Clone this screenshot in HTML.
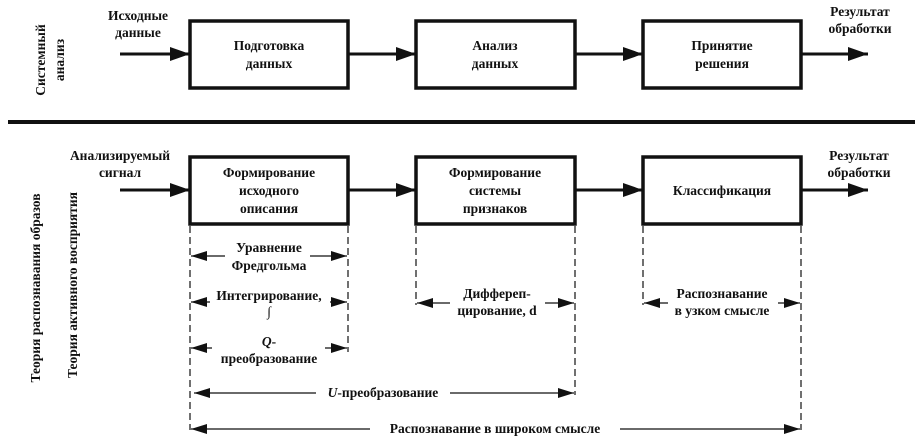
<!DOCTYPE html>
<html><head><meta charset="utf-8"><style>
html,body{margin:0;padding:0;background:#fff}
svg{display:block}
text{font-family:"Liberation Serif","DejaVu Serif",serif;font-weight:bold;font-size:13.5px;fill:#111}
</style></head><body>
<svg width="923" height="446" viewBox="0 0 923 446" xmlns="http://www.w3.org/2000/svg">
<defs>
<marker id="a" markerWidth="10" markerHeight="8" refX="10" refY="4" orient="auto" markerUnits="userSpaceOnUse"><path d="M0,0 L10,4 L0,8 z" fill="#111"/></marker>
<marker id="b" markerWidth="20" markerHeight="14" refX="20" refY="7" orient="auto" markerUnits="userSpaceOnUse"><path d="M0,0 L20,7 L0,14 z" fill="#111"/></marker>
<marker id="s" markerWidth="16" markerHeight="10" refX="0" refY="5" orient="auto" markerUnits="userSpaceOnUse"><path d="M16,0 L0,5 L16,10 z" fill="#111"/></marker>
<marker id="e" markerWidth="16" markerHeight="10" refX="16" refY="5" orient="auto" markerUnits="userSpaceOnUse"><path d="M0,0 L16,5 L0,10 z" fill="#111"/></marker>
</defs>
<g fill="none" stroke="#111" stroke-width="3.5">
<rect x="190" y="21" width="158" height="67"/>
<rect x="416" y="21" width="159" height="67"/>
<rect x="643" y="21" width="158" height="67"/>
<rect x="190" y="157" width="158" height="67"/>
<rect x="416" y="157" width="159" height="67"/>
<rect x="643" y="157" width="158" height="67"/>
</g>
<g stroke="#111" stroke-width="3">
<line x1="120" y1="54" x2="190" y2="54" marker-end="url(#b)"/>
<line x1="348" y1="54" x2="416" y2="54" marker-end="url(#b)"/>
<line x1="575" y1="54" x2="643" y2="54" marker-end="url(#b)"/>
<line x1="801" y1="54" x2="868" y2="54" marker-end="url(#b)"/>
<line x1="120" y1="190" x2="190" y2="190" marker-end="url(#b)"/>
<line x1="348" y1="190" x2="416" y2="190" marker-end="url(#b)"/>
<line x1="575" y1="190" x2="643" y2="190" marker-end="url(#b)"/>
<line x1="801" y1="190" x2="868" y2="190" marker-end="url(#b)"/>
</g>
<line x1="8" y1="122" x2="915" y2="122" stroke="#111" stroke-width="4"/>
<g stroke="#111" stroke-width="1.2" stroke-dasharray="7,4" fill="none">
<line x1="190" y1="226" x2="190" y2="430"/>
<line x1="348" y1="226" x2="348" y2="352"/>
<line x1="416" y1="226" x2="416" y2="305"/>
<line x1="575" y1="226" x2="575" y2="395"/>
<line x1="643" y1="226" x2="643" y2="305"/>
<line x1="801" y1="226" x2="801" y2="430"/>
</g>
<g stroke="#111" stroke-width="1.2">
<line x1="191" y1="256" x2="225" y2="256" marker-start="url(#s)"/>
<line x1="310" y1="256" x2="347" y2="256" marker-end="url(#e)"/>
<line x1="191" y1="302" x2="210" y2="302" marker-start="url(#s)"/>
<line x1="330" y1="302" x2="347" y2="302" marker-end="url(#e)"/>
<line x1="191" y1="348" x2="212" y2="348" marker-start="url(#s)"/>
<line x1="325" y1="348" x2="347" y2="348" marker-end="url(#e)"/>
<line x1="417" y1="303" x2="450" y2="303" marker-start="url(#s)"/>
<line x1="545" y1="303" x2="574" y2="303" marker-end="url(#e)"/>
<line x1="644" y1="303" x2="668" y2="303" marker-start="url(#s)"/>
<line x1="778" y1="303" x2="800" y2="303" marker-end="url(#e)"/>
<line x1="194" y1="393" x2="316" y2="393" marker-start="url(#s)"/>
<line x1="450" y1="393" x2="574" y2="393" marker-end="url(#e)"/>
<line x1="191" y1="429" x2="370" y2="429" marker-start="url(#s)"/>
<line x1="620" y1="429" x2="800" y2="429" marker-end="url(#e)"/>
</g>
<g text-anchor="middle">
<text x="138" y="20">Исходные</text><text x="138" y="37">данные</text>
<text x="269" y="50">Подготовка</text><text x="269" y="68">данных</text>
<text x="495" y="50">Анализ</text><text x="495" y="68">данных</text>
<text x="722" y="50">Принятие</text><text x="722" y="68">решения</text>
<text x="860" y="16">Результат</text><text x="860" y="33">обработки</text>
<text x="120" y="160">Анализируемый</text><text x="120" y="177">сигнал</text>
<text x="269" y="177">Формирование</text><text x="269" y="195">исходного</text><text x="269" y="213">описания</text>
<text x="495" y="177">Формирование</text><text x="495" y="195">системы</text><text x="495" y="213">признаков</text>
<text x="722" y="195">Классификация</text>
<text x="859" y="160">Результат</text><text x="859" y="177">обработки</text>
<text x="269" y="252">Уравнение</text><text x="269" y="270">Фредгольма</text>
<text x="269" y="300">Интегрирование,</text><text x="269" y="316" font-weight="normal">∫</text>
<text x="269" y="346"><tspan font-style="italic">Q</tspan>-</text><text x="269" y="363">преобразование</text>
<text x="497" y="298">Диффереп-</text><text x="497" y="315">цирование, d</text>
<text x="722" y="298">Распознавание</text><text x="722" y="315">в узком смысле</text>
<text x="383" y="397"><tspan font-style="italic">U</tspan>-преобразование</text>
<text x="495" y="433">Распознавание в широком смысле</text>
<text transform="translate(45,60) rotate(-90)">Системный</text>
<text transform="translate(64,60) rotate(-90)">анализ</text>
<text transform="translate(40,288) rotate(-90)">Теория распознавания образов</text>
<text transform="translate(77,285) rotate(-90)">Теория активного восприятия</text>
</g>
</svg>
</body></html>
